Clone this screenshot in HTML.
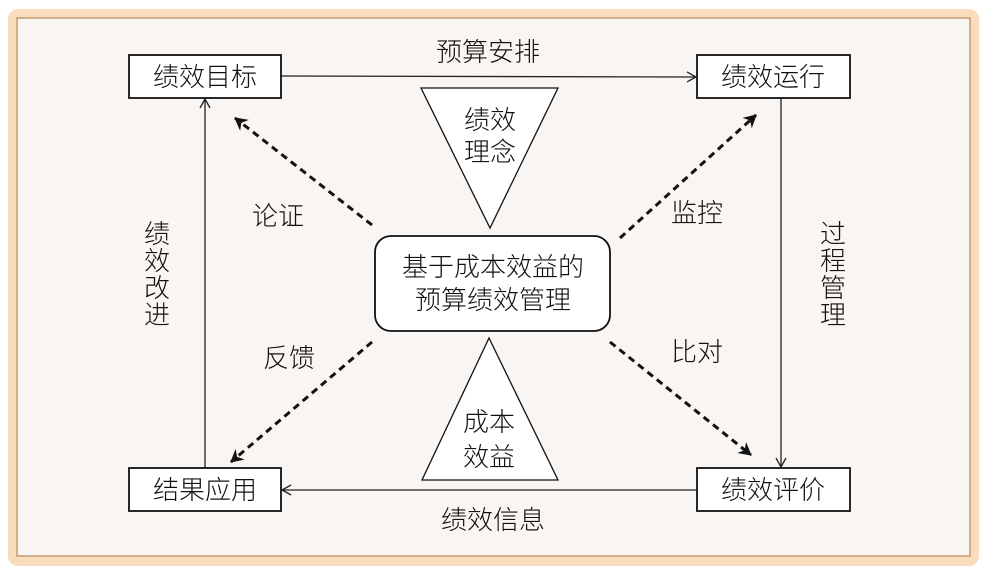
<!DOCTYPE html>
<html><head><meta charset="utf-8"><style>
body{margin:0;width:988px;height:575px;background:#fff;overflow:hidden}
svg text{font-family:"Liberation Sans","Noto Sans CJK SC",sans-serif;fill:#111;font-weight:300}
</style></head><body>
<svg width="988" height="575" viewBox="0 0 988 575" xmlns="http://www.w3.org/2000/svg">
<defs>
<marker id="a" markerWidth="12" markerHeight="12" refX="10" refY="6" orient="auto" markerUnits="userSpaceOnUse"><path d="M1,1 L10,6 L1,11" fill="none" stroke="#222" stroke-width="1.3"/></marker>
<marker id="b" markerWidth="16" markerHeight="16" refX="13" refY="8" orient="auto" markerUnits="userSpaceOnUse"><path d="M1,1 L14,8 L1,15 L5,8 Z" fill="#111"/></marker>
</defs>
<rect x="8" y="9" width="971" height="557" rx="10" fill="#f9dcbc"/>
<rect x="17" y="18" width="953" height="538" fill="#f9f5f2" stroke="#b8875a" stroke-width="1.2"/>
<g stroke="#222" stroke-width="1.3" fill="none">
<line x1="281" y1="76" x2="696" y2="77" marker-end="url(#a)"/>
<line x1="781" y1="98" x2="781" y2="467" marker-end="url(#a)"/>
<line x1="697" y1="490" x2="282" y2="490" marker-end="url(#a)"/>
<line x1="205" y1="468" x2="205" y2="99" marker-end="url(#a)"/>
</g>
<g stroke="#111" stroke-width="3" stroke-dasharray="7,5" fill="none">
<line x1="372" y1="225" x2="235" y2="118" marker-end="url(#b)"/>
<line x1="620" y1="238" x2="756" y2="115" marker-end="url(#b)"/>
<line x1="372" y1="342" x2="231" y2="462" marker-end="url(#b)"/>
<line x1="610" y1="342" x2="751" y2="455" marker-end="url(#b)"/>
</g>
<g fill="#fff" stroke="#111" stroke-width="1.8">
<rect x="129" y="55" width="152" height="43"/>
<rect x="697" y="55" width="153" height="43"/>
<rect x="129" y="468" width="152" height="43"/>
<rect x="697" y="468" width="153" height="43"/>
<rect x="375" y="236" width="235" height="95" rx="16"/>
</g>
<g fill="#fff" stroke="#111" stroke-width="1.3">
<polygon points="421,88 558,88 490,228"/>
<polygon points="422,480 558,480 489,338"/>
</g>
<g font-size="26" text-anchor="middle">
<text x="205" y="86">绩效目标</text>
<text x="773" y="86">绩效运行</text>
<text x="205" y="499">结果应用</text>
<text x="773" y="499">绩效评价</text>
<text x="493" y="276">基于成本效益的</text>
<text x="493" y="309">预算绩效管理</text>
<text x="490" y="129">绩效</text>
<text x="490" y="161">理念</text>
<text x="489" y="431">成本</text>
<text x="489" y="466">效益</text>
<text x="488" y="61">预算安排</text>
<text x="278" y="225">论证</text>
<text x="697" y="222">监控</text>
<text x="289" y="367">反馈</text>
<text x="697" y="361">比对</text>
<text x="493" y="529">绩效信息</text>
<text x="157" y="243">绩</text><text x="157" y="270">效</text><text x="157" y="297">改</text><text x="157" y="324">进</text>
<text x="833" y="243">过</text><text x="833" y="270">程</text><text x="833" y="297">管</text><text x="833" y="324">理</text>
</g>
</svg>
</body></html>
